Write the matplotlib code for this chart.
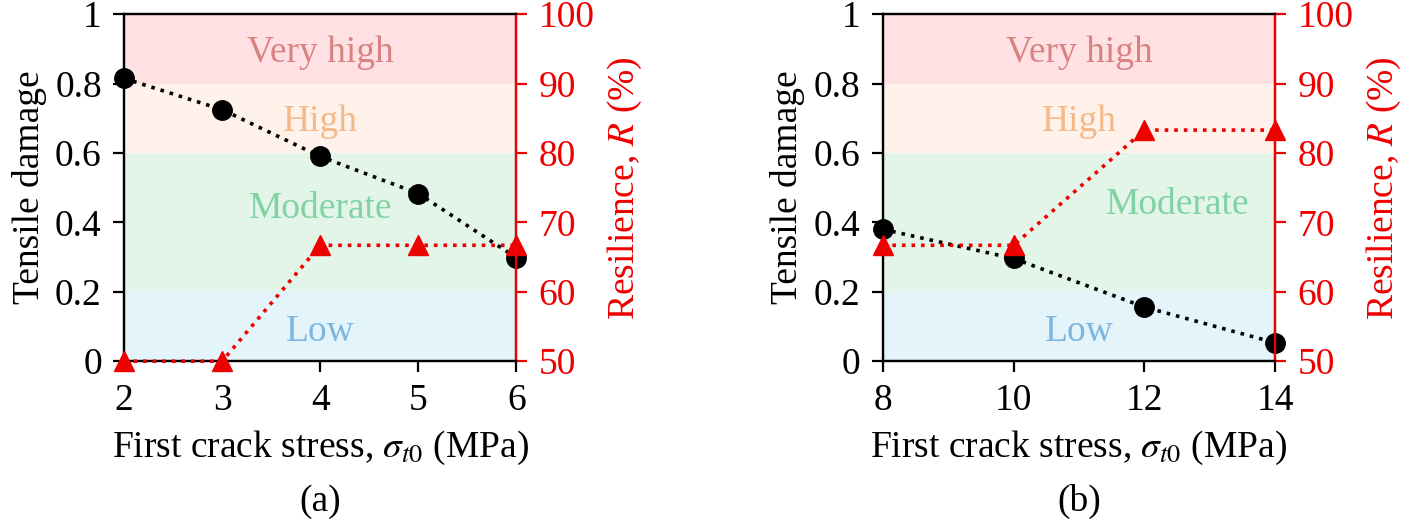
import matplotlib
matplotlib.use('Agg')
import matplotlib.pyplot as plt

#data
stress_a = [2, 3, 4, 5, 6]
damage_a = [0.815, 0.725, 0.59, 0.483, 0.298]
resil_a = [50, 50, 66.7, 66.7, 66.7]

stress_b = [8, 10, 12, 14]
damage_b = [0.38, 0.296, 0.156, 0.053]
resil_b = [66.7, 66.7, 83.3, 83.3]

#damage bands: (low, high, name, fill colour, text colour)
band_edges = [0, 0.2, 0.6, 0.8, 1.0]
band_names = ['Low', 'Moderate', 'High', 'Very high']
band_fill = ['#e3f4fb', '#e3f4e8', '#fff2ea', '#ffe1e4']
band_text = ['#7fb6df', '#7fd3a3', '#f4b98a', '#d98282']

plt.rcParams['font.family'] = ['Liberation Serif', 'DejaVu Serif']
plt.rcParams['mathtext.fontset'] = 'stix'
plt.rcParams['font.size'] = 27

fig = plt.figure(figsize=(14.17, 5.25), dpi=100)
ax_a = fig.add_axes([0.0875, 0.312, 0.277, 0.661])
ax_b = fig.add_axes([0.623, 0.312, 0.277, 0.661])

red = '#ee0000'


def draw_panel(ax, x, dmg, res, ticks, label_y, label_x, tag):
    #background bands
    for i in range(len(band_names)):
        ax.axhspan(band_edges[i], band_edges[i + 1], color=band_fill[i], lw=0, zorder=0)
        ax.text(label_x[i], label_y[i], band_names[i], color=band_text[i],
                ha='center', va='center', fontsize=27, zorder=1)
    ax.plot(x, dmg, ':', color='black', lw=2.6, marker='o', ms=14, clip_on=False, zorder=3)
    ax.set_xlim(ticks[0], ticks[-1])
    ax.set_ylim(0, 1)
    ax.set_xticks(ticks)
    ax.set_yticks([0, 0.2, 0.4, 0.6, 0.8, 1])
    ax.set_yticklabels(['0', '0.2', '0.4', '0.6', '0.8', '1'])
    ax.set_ylabel('Tensile damage', labelpad=6)
    ax.set_xlabel(r'First crack stress, $\sigma_{t0}$ (MPa)', labelpad=8)
    ax.tick_params(direction='out', length=8, width=1.6, pad=8)
    for s in ax.spines.values():
        s.set_linewidth(1.6)
    ax.text(0.5, -0.405, tag, transform=ax.transAxes, ha='center', va='center', fontsize=27)

    tw = ax.twinx()
    tw.plot(x, res, ':', color=red, lw=2.6, marker='^', ms=14, clip_on=False, zorder=4)
    tw.set_ylim(50, 100)
    tw.set_yticks([50, 60, 70, 80, 90, 100])
    tw.set_ylabel(r'Resilience, $R$ (%)', color=red, labelpad=8)
    tw.tick_params(axis='y', colors=red, direction='out', length=8, width=1.6, pad=8)
    tw.spines['right'].set_color(red)
    for s in tw.spines.values():
        s.set_linewidth(1.6)


draw_panel(ax_a, stress_a, damage_a, resil_a, [2, 3, 4, 5, 6],
           [0.085, 0.44, 0.69, 0.89], [4, 4, 4, 4], '(a)')
draw_panel(ax_b, stress_b, damage_b, resil_b, [8, 10, 12, 14],
           [0.085, 0.45, 0.69, 0.89], [11, 12.5, 11, 11], '(b)')

fig.savefig('out.png', dpi=100)
